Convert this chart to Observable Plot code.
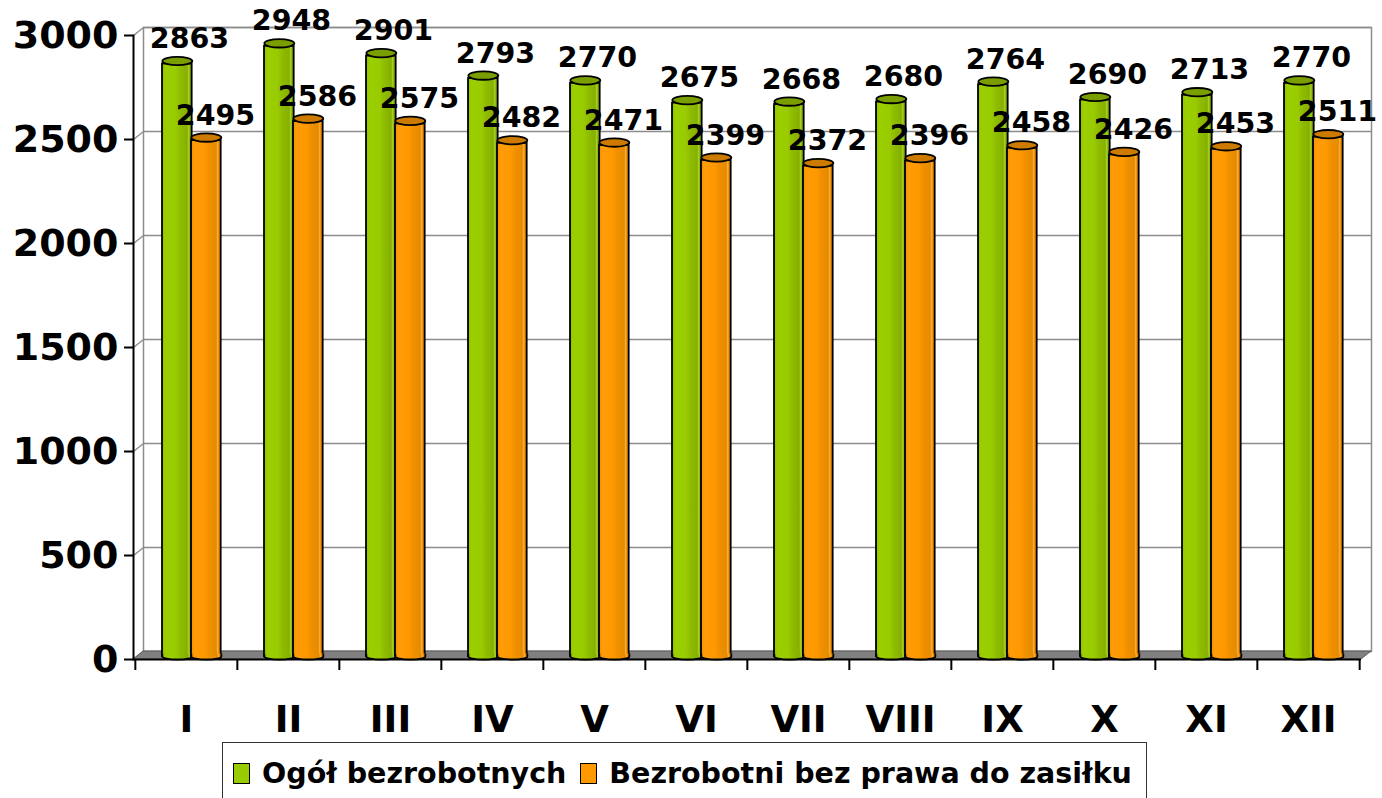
<!DOCTYPE html>
<html>
<head>
<meta charset="utf-8">
<script src="https://cdn.jsdelivr.net/npm/d3@7"></script>
<script src="https://cdn.jsdelivr.net/npm/@observablehq/plot@0.6"></script>
<style>
  html, body { margin: 0; padding: 0; background: #fff; overflow: hidden; }
  #chart svg { display: block; }
  .legend {
    margin-left: 222px; width: 925px; height: 62px; box-sizing: border-box;
    border: 1.5px solid #333; font-family: "DejaVu Sans", sans-serif; font-weight: bold;
    font-size: 28.5px; display: flex; align-items: center; padding-left: 10px; color: #000;
  }
  .legend .sw { display: inline-block; width: 15px; height: 19px; border: 1.5px solid #000; margin-right: 12px; }
  .legend .item { display: flex; align-items: center; margin-right: 14px; }
</style>
</head>
<body>
<div id="chart"></div>
<div class="legend">
  <span class="item"><span class="sw" style="background:#99cc00"></span>Ogół bezrobotnych</span>
  <span class="item"><span class="sw" style="background:#ff9900"></span>Bezrobotni bez prawa do zasiłku</span>
</div>
<script>
const months = ["I","II","III","IV","V","VI","VII","VIII","IX","X","XI","XII"];
const ogol = [2863,2948,2901,2793,2770,2675,2668,2680,2764,2690,2713,2770];
const bezPrawa = [2495,2586,2575,2482,2471,2399,2372,2396,2458,2426,2453,2511];
const yTicks = [0,500,1000,1500,2000,2500,3000];
const seriesNames = ["Ogół bezrobotnych","Bezrobotni bez prawa do zasiłku"];

const dataG = months.map((m,i) => ({month: m, value: ogol[i], series: seriesNames[0]}));
const dataO = months.map((m,i) => ({month: m, value: bezPrawa[i], series: seriesNames[1]}));

const K = 0.5523;
function ellipseSymbol(rx, ry) {
  return {draw(ctx) {
    ctx.moveTo(rx, 0);
    ctx.bezierCurveTo(rx, ry*K, rx*K, ry, 0, ry);
    ctx.bezierCurveTo(-rx*K, ry, -rx, ry*K, -rx, 0);
    ctx.bezierCurveTo(-rx, -ry*K, -rx*K, -ry, 0, -ry);
    ctx.bezierCurveTo(rx*K, -ry, rx, -ry*K, rx, 0);
    ctx.closePath();
  }};
}
function bottomCap(rx, ry, up) {
  return {draw(ctx) {
    ctx.moveTo(rx, -up);
    ctx.lineTo(rx, 0);
    ctx.bezierCurveTo(rx, ry*K, rx*K, ry, 0, ry);
    ctx.bezierCurveTo(-rx*K, ry, -rx, ry*K, -rx, 0);
    ctx.lineTo(-rx, -up);
  }};
}
const sideLine = {draw(ctx) { ctx.moveTo(0, 0); ctx.lineTo(10, -8); }};

function defsMark() {
  const ns = "http://www.w3.org/2000/svg";
  const defs = document.createElementNS(ns, "defs");
  const mk = (id, stops) => {
    const g = document.createElementNS(ns, "linearGradient");
    g.setAttribute("id", id);
    g.setAttribute("x1", "0"); g.setAttribute("x2", "1"); g.setAttribute("y1", "0"); g.setAttribute("y2", "0");
    for (const [o, c] of stops) {
      const s = document.createElementNS(ns, "stop");
      s.setAttribute("offset", o); s.setAttribute("stop-color", c);
      g.appendChild(s);
    }
    defs.appendChild(g);
  };
  mk("gGreen", [[0,"#8fbf00"],[0.12,"#9ccf00"],[0.45,"#99cc00"],[0.62,"#8ebc00"],[0.85,"#86b000"],[0.9,"#a8d22a"],[0.94,"#88b200"],[1,"#789c00"]]);
  mk("gOrange", [[0,"#f08f00"],[0.12,"#ff9c08"],[0.45,"#ff9900"],[0.62,"#f09000"],[0.85,"#e58a00"],[0.9,"#ffae3a"],[0.94,"#e88a00"],[1,"#d07c00"]]);
  return defs;
}

function floorMark(index, scales, values, dims) {
  const ns = "http://www.w3.org/2000/svg";
  const y0 = scales.y(0);
  const l = dims.marginLeft, r = dims.width - dims.marginRight;
  const p = document.createElementNS(ns, "polygon");
  p.setAttribute("points", `${l},${y0} ${l+10},${y0-8} ${r+10},${y0-8} ${r},${y0}`);
  p.setAttribute("fill", "#808080");
  p.setAttribute("stroke", "#5a5a5a");
  p.setAttribute("stroke-width", "1");
  return p;
}

const W = 1382, H = 742;
const band = (W - 133 - 21) / 12;
const gL = 27, gR = 57, oL = 56, oR = 86;
const gC = (gL + gR) / 2 - band / 2, oC = (oL + oR) / 2 - band / 2;
const rx = 15;

const chart = Plot.plot({
  width: W, height: H,
  marginLeft: 133, marginRight: 21, marginTop: 35, marginBottom: 83,
  style: {fontFamily: "DejaVu Sans, sans-serif", fontWeight: "bold", color: "#000", background: "#fff"},
  x: {type: "band", domain: months, padding: 0, label: null},
  y: {domain: [0, 3000], ticks: yTicks, label: null},
  marks: [
    defsMark,
    Plot.frame({stroke: "#8c8c8c", strokeWidth: 1.5, dx: 10, dy: -8}),
    Plot.gridY(yTicks, {stroke: "#8c8c8c", strokeOpacity: 1, strokeWidth: 1.5, dx: 10, dy: -8}),
    Plot.dot(yTicks, {y: d => d, frameAnchor: "left", symbol: sideLine, stroke: "#8c8c8c", strokeWidth: 1.5, fill: "none"}),
    floorMark,
    Plot.ruleY([0], {stroke: "#000", strokeWidth: 2}),
    Plot.frame({anchor: "left", stroke: "#000", strokeWidth: 2}),
    Plot.axisY(yTicks, {tickSize: 9, tickPadding: 6, fontSize: 38, fontWeight: "bold", tickFormat: d => String(d), stroke: "#000", strokeWidth: 2}),
    Plot.axisX({tickSize: 0, tickPadding: 46, fontSize: 37, fontWeight: "bold"}),
    Plot.axisX({tickSize: 11, text: null, dx: -band / 2, stroke: "#000", strokeWidth: 2}),
    Plot.axisX(["XII"], {tickSize: 11, text: null, dx: band / 2, stroke: "#000", strokeWidth: 2}),
    // green cylinders
    Plot.barY(dataG, {x: "month", y: "value", insetLeft: gL, insetRight: band - gR, insetBottom: 3, fill: "url(#gGreen)", stroke: "#000", strokeWidth: 1.8}),
    Plot.dot(dataG, {x: "month", y: 0, dx: gC, dy: -3, symbol: bottomCap(rx, 3, 3), fill: "url(#gGreen)", stroke: "#000", strokeWidth: 1.8}),
    Plot.dot(dataG, {x: "month", y: "value", dx: gC, dy: -3, symbol: ellipseSymbol(rx, 4.2), fill: "#7a9e00", stroke: "#000", strokeWidth: 1.8}),
    // orange cylinders
    Plot.barY(dataO, {x: "month", y: "value", insetLeft: oL, insetRight: band - oR, insetBottom: 3, fill: "url(#gOrange)", stroke: "#000", strokeWidth: 1.8}),
    Plot.dot(dataO, {x: "month", y: 0, dx: oC, dy: -3, symbol: bottomCap(rx, 3, 3), fill: "url(#gOrange)", stroke: "#000", strokeWidth: 1.8}),
    Plot.dot(dataO, {x: "month", y: "value", dx: oC, dy: -3, symbol: ellipseSymbol(rx, 4.2), fill: "#cc7a00", stroke: "#000", strokeWidth: 1.8}),
    // value labels
    Plot.text(dataG, {x: "month", y: "value", text: d => String(d.value), dx: 3, dy: -25, lineAnchor: "middle", fontSize: 28.5, fontWeight: "bold", fill: "#000"}),
    Plot.text(dataO, {x: "month", y: "value", text: d => String(d.value), dx: 29, dy: -25, lineAnchor: "middle", fontSize: 28.5, fontWeight: "bold", fill: "#000"})
  ]
});
document.getElementById("chart").appendChild(chart);
</script>
</body>
</html>
